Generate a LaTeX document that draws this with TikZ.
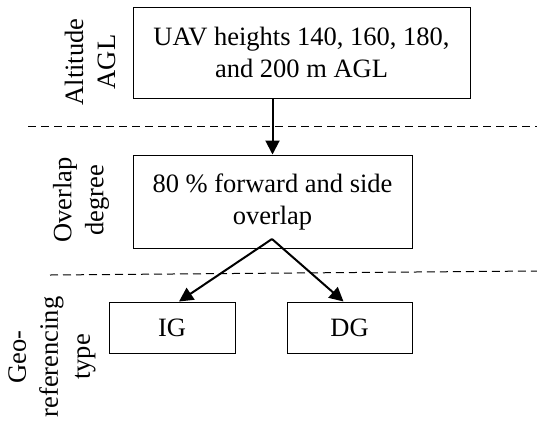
\documentclass[tikz,border=0pt]{standalone}
\usepackage{fontspec}
\setmainfont{Liberation Serif}
\usetikzlibrary{arrows.meta}
\begin{document}
\begin{tikzpicture}[x=1pt,y=-1pt,
  every node/.style={font=\fontsize{26.5}{32}\selectfont, inner sep=0pt},
  box/.style={draw, line width=1pt, align=center},
  lbl/.style={rotate=90, align=center},
  conn/.style={line width=2pt, -{Triangle[length=14pt,width=14pt]}},
  sep/.style={line width=1pt, dash pattern=on 8pt off 5pt}]
\useasboundingbox (0,0) rectangle (537,421);
% boxes
\node[box, minimum width=337pt, minimum height=91pt] (uav) at (301.5,52.5) {UAV heights 140, 160, 180,\\and 200 m AGL};
\node[box, minimum width=279pt, minimum height=93pt] (ovl) at (272.5,201.5) {80 \% forward and side\\overlap};
\node[box, minimum width=126pt, minimum height=51pt] (ig) at (172,327.5) {IG};
\node[box, minimum width=125pt, minimum height=51pt] (dg) at (349.5,327.5) {DG};
% labels
\node[lbl] (l1) at (90,62) {Altitude\\AGL};
\node[lbl] (l2) at (81,200) {Overlap\\degree};
\node[lbl] (l3) at (52,357) {Geo-\\referencing\\type};
% separators
\coordinate (s1a) at (28,126);
\coordinate (s1b) at (537,126);
\coordinate (s2a) at (50,275);
\coordinate (s2b) at (537,271);
\draw[sep] (s1a) -- (s1b);
\draw[sep] (s2a) -- (s2b);
% connectors
\draw[conn] (uav.south -| ovl.north) -- (ovl.north);
\coordinate (apex) at (272,239);
\draw[conn] (apex) -- ([xshift=7pt]ig.north);
\draw[conn] (apex) -- ([xshift=-6pt]dg.north);
\end{tikzpicture}
\end{document}
